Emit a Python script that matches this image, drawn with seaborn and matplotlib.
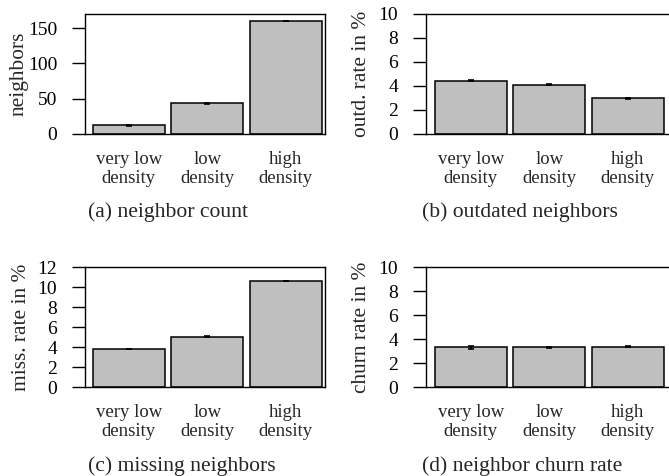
import matplotlib
matplotlib.use("Agg")
import matplotlib.pyplot as plt
import seaborn as sns
import numpy as np

categories = ["very low\ndensity", "low\ndensity", "high\ndensity"]

neighbor_count = [12.5, 43.5, 160.0]
neighbor_count_err = [0.6, 0.5, 0.5]

outdated_rate = [4.42, 4.12, 2.97]
outdated_err = [0.04, 0.03, 0.02]

missing_rate = [3.8, 5.05, 10.62]
missing_err = [0.04, 0.03, 0.02]

churn_rate = [3.3, 3.31, 3.36]
churn_err = [0.1, 0.03, 0.03]

ylabels = ["neighbors", "outd. rate in %", "miss. rate in %", "churn rate in %"]
captions = ["(a) neighbor count", "(b) outdated neighbors",
            "(c) missing neighbors", "(d) neighbor churn rate"]
ylims = [(0, 170), (0, 10), (0, 12), (0, 10)]
yticks = [[0, 50, 100, 150], [0, 2, 4, 6, 8, 10],
          [0, 2, 4, 6, 8, 10, 12], [0, 2, 4, 6, 8, 10]]

sns.set_theme(style="ticks")
plt.rcParams["font.family"] = ["Liberation Serif", "DejaVu Serif"]

W, H = 669, 476
fig = plt.figure(figsize=(W / 100, H / 100), dpi=100)

FS_X = 13.5
FS_Y = 14
FS_LAB = 15.4
FS_CAP = 15.6

def px_axes(l, t, r, b):
    return [l / W, 1 - b / H, (r - l) / W, (b - t) / H]

boxes = [px_axes(85, 14, 325, 134), px_axes(426, 14, 671, 134),
         px_axes(85, 267, 325, 387), px_axes(426, 267, 671, 387)]
xlims = [(-0.56, 2.5), (-0.57, 2.55), (-0.56, 2.5), (-0.57, 2.55)]
label_right_px = [26, 368, 28, 368]

series = [(neighbor_count, neighbor_count_err), (outdated_rate, outdated_err),
          (missing_rate, missing_err), (churn_rate, churn_err)]

for i, (vals, errs) in enumerate(series):
    ax = fig.add_axes(boxes[i])
    sns.barplot(x=categories, y=vals, color="#bfbfbf", saturation=1,
                edgecolor="black", linewidth=1.1, width=0.92, ax=ax)
    ax.errorbar(np.arange(len(categories)), vals, yerr=errs, fmt="none",
                ecolor="black", elinewidth=1.2, capsize=2, capthick=1.2)
    ax.set_xlim(*xlims[i])
    ax.set_ylim(*ylims[i])
    ax.set_yticks(yticks[i])
    ax.set_ylabel(ylabels[i], fontsize=FS_LAB)
    left_px = boxes[i][0] * W
    width_px = boxes[i][2] * W
    ax.yaxis.set_label_coords((label_right_px[i] + 3 - left_px) / width_px, 0.5)
    ax.set_xlabel("")
    ax.tick_params(axis="y", length=9.5, width=1, labelsize=FS_Y, pad=10.5, colors="black")
    ax.tick_params(axis="x", length=0, labelsize=FS_X, pad=12)
    for s in ax.spines.values():
        s.set_visible(True)
        s.set_color("black")
        s.set_linewidth(1)

cap_pos = [(88, 212), (422, 212), (88, 466), (422, 466)]
for (x, y), c in zip(cap_pos, captions):
    fig.text(x / W, 1 - y / H, c, ha="left", va="center", fontsize=FS_CAP)

fig.savefig("out.png", dpi=100)
